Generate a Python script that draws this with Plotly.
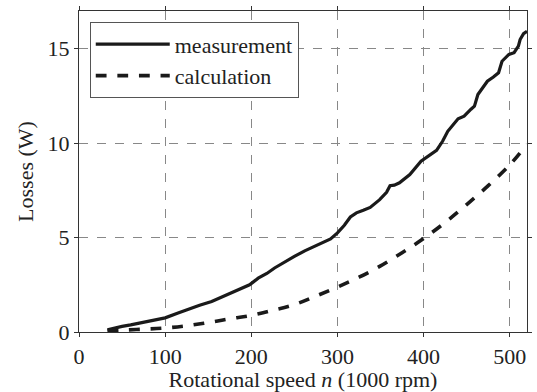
import plotly.graph_objects as go

# measurement (solid)
meas_x = [33, 40, 50, 60, 77, 90, 100, 115, 127, 140, 154, 168, 181, 198, 208, 218, 227, 240,
          250, 262, 277, 292, 300, 308, 315, 322, 330, 338, 349, 357, 361, 366, 372, 384, 397,
          406, 415, 422, 428, 440, 447, 455, 459, 463, 474, 481, 487, 491, 499, 505, 510, 512,
          516, 520]
meas_y = [0.12, 0.2, 0.3, 0.38, 0.55, 0.65, 0.75, 1.0, 1.22, 1.42, 1.62, 1.9, 2.15, 2.5, 2.85,
          3.1, 3.39, 3.75, 4.0, 4.3, 4.63, 4.93, 5.25, 5.65, 6.09, 6.31, 6.45, 6.6, 7.01, 7.4,
          7.75, 7.78, 7.9, 8.34, 9.04, 9.35, 9.62, 10.1, 10.63, 11.29, 11.43, 11.8, 11.96, 12.58,
          13.28, 13.5, 13.73, 14.34, 14.7, 14.79, 15.14, 15.49, 15.8, 15.93]

# calculation (dashed)
calc_x = [33, 50, 75, 100, 125, 150, 175, 200, 225, 250, 275, 300, 325, 350, 375, 400, 425,
          450, 475, 500, 520]
calc_y = [0.07, 0.1, 0.15, 0.21, 0.33, 0.5, 0.7, 0.88, 1.15, 1.45, 1.9, 2.38, 2.9, 3.5, 4.2,
          4.95, 5.8, 6.75, 7.75, 8.85, 9.95]

x_ticks = [0, 100, 200, 300, 400, 500]
y_ticks = [0, 5, 10, 15]

FONT = "Liberation Serif"
TXT = "#222222"
FS = 22

fig = go.Figure()
fig.add_trace(go.Scatter(x=meas_x, y=meas_y, mode="lines", name="measurement",
                         line=dict(color="#1a1a1a", width=3.2)))
fig.add_trace(go.Scatter(x=calc_x, y=calc_y, mode="lines", name="calculation",
                         line=dict(color="#1a1a1a", width=3.6, dash="dash", shape="spline")))

axis_common = dict(
    showline=True, linecolor="#333333", linewidth=1.2, mirror="ticks",
    ticks="outside", ticklen=4, tickcolor="#333333", tickwidth=1,
    showgrid=True, gridcolor="#888888", griddash="dash", gridwidth=1,
    zeroline=False, tickfont=dict(family=FONT, size=FS, color=TXT),
)

fig.update_layout(
    width=537, height=392,
    margin=dict(l=79, r=5, t=11, b=60),
    paper_bgcolor="white", plot_bgcolor="white",
    font=dict(family=FONT, size=FS, color=TXT),
    xaxis=dict(range=[0, 520], tickvals=x_ticks,
               title=dict(text="Rotational speed <i>n</i> (1000 rpm)",
                          font=dict(family=FONT, size=FS, color=TXT), standoff=0),
               **axis_common),
    yaxis=dict(range=[0, 17], tickvals=y_ticks,
               title=dict(text="Losses (W)", font=dict(family=FONT, size=FS, color=TXT),
                          standoff=7),
               **axis_common),
    legend=dict(x=0.024, y=0.965, xanchor="left", yanchor="top",
                bgcolor="white", bordercolor="#555555", borderwidth=1,
                font=dict(family=FONT, size=FS, color=TXT), tracegroupgap=0,
                itemwidth=74),
    showlegend=True,
)

fig.write_html("out.html")
